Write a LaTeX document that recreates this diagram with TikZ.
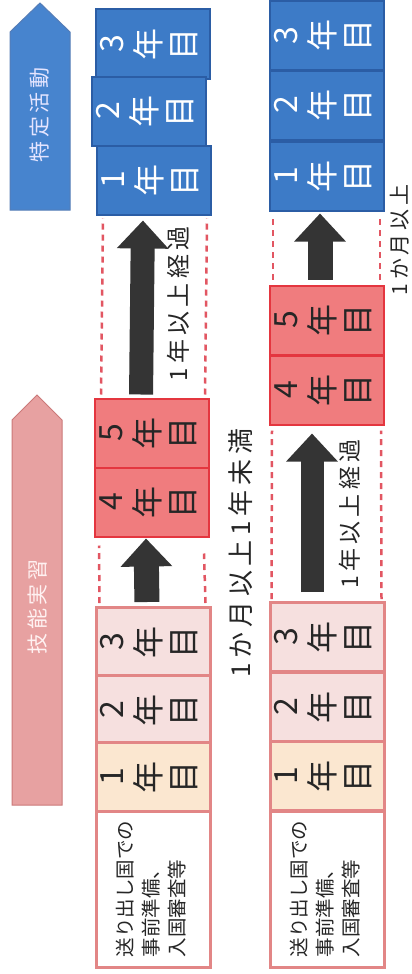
\documentclass[tikz,border=0pt]{standalone}
\usepackage{fontspec}
\setmainfont{Noto Sans CJK JP}
\newfontfamily\jpwide[LetterSpace=18]{Noto Sans CJK JP}
\usepackage{tikz}
\usetikzlibrary{arrows.meta}

\definecolor{boxblue}{HTML}{3D7BC7}
\definecolor{edgeblue}{HTML}{2B5DA5}
\definecolor{boxred}{HTML}{F07C7E}
\definecolor{edgered}{HTML}{E4363F}
\definecolor{boxpink}{HTML}{F6E0DF}
\definecolor{edgepink}{HTML}{E28686}
\definecolor{boxcream}{HTML}{FBE7D0}
\definecolor{arrblue}{HTML}{4784CE}
\definecolor{arrpink}{HTML}{E7A1A1}
\definecolor{passred}{HTML}{E25662}
\definecolor{arrdark}{HTML}{343434}

\newcommand{\nenme}[1]{\rotatebox{90}{\begin{tabular}{@{}c@{}}#1\\年\\目\end{tabular}}}

\begin{document}
\begin{tikzpicture}[x=1pt, y=-1pt,
    yearbox/.style={draw, line width=2pt, minimum width=114pt, minimum height=69pt,
        inner sep=0pt, font=\fontsize{32}{34}\selectfont},
    bluebox/.style={yearbox, fill=boxblue, draw=edgeblue, text=white},
    redbox/.style={yearbox, fill=boxred, draw=edgered, text=black!85},
    pinkbox/.style={yearbox, fill=boxpink, draw=edgepink, line width=3pt, text=black!85},
    creambox/.style={pinkbox, fill=boxcream},
    prebox/.style={draw=edgepink, line width=3pt, fill=white, minimum width=114pt,
        minimum height=156pt, inner sep=0pt, font=\fontsize{19.5}{26}\selectfont, text=black!85},
    passline/.style={draw=passred, line width=2.5pt, dash pattern=on 6pt off 5pt},
    blockarrow/.style={draw=arrdark, line width=#1, -{Triangle[length=28pt, width=50pt]}},
    steptext/.style={rotate=90, text=black!85, font=\jpwide\fontsize{24}{24}\selectfont}]
\useasboundingbox (0,0) rectangle (412,974);
\fill[white] (0,0) rectangle (412,974);

% Category arrows
\draw[fill=arrblue, draw=edgeblue!80, line width=1pt] (10,210) -- (10,32) -- (40,3) -- (70,32) -- (70,210) -- cycle;
\node[rotate=90, text=white!90!blue, font=\jpwide\fontsize{21}{21}\selectfont] (tokutei) at (40,115) {特定活動};

\draw[fill=arrpink, draw=edgepink!90!black, line width=1pt] (12,805) -- (12,420) -- (37,395) -- (62,420) -- (62,805) -- cycle;
\node[rotate=90, text=white!95!red, font=\jpwide\fontsize{21}{21}\selectfont] (ginou) at (38,607) {技能実習};

% First course
\node[bluebox] (ay3) at (153,44) {\nenme{3}};
\node[bluebox] (ay2) at (149,111) {\nenme{2}};
\node[bluebox] (ay1) at (154,180) {\nenme{1}};
\node[redbox] (ag5) at (152,433) {\nenme{5}};
\node[redbox] (ag4) at (152,502) {\nenme{4}};
\node[pinkbox] (ag3) at (153,642) {\nenme{3}};
\node[pinkbox] (ag2) at (153,710) {\nenme{2}};
\node[creambox] (ag1) at (153,777) {\nenme{1}};
\node[prebox] (apre) at (153,889) {\rotatebox{90}{\begin{tabular}{@{}l@{}}送り出し国での\\事前準備、\\入国審査等\end{tabular}}};

\draw[passline] ([xshift=7pt,yshift=3pt]ag5.north west) -- ([xshift=7pt,yshift=-3pt]ay1.south west);
\draw[passline] ([xshift=-5pt,yshift=3pt]ag5.north east) -- ([xshift=-5pt,yshift=-3pt]ay1.south east);
\draw[passline] ([xshift=5pt,yshift=3pt]ag3.north west) -- ([xshift=5pt,yshift=-8pt]ag4.south west);
\draw[passline] ([xshift=-6pt,yshift=3pt]ag3.north east) -- ([xshift=-6pt,yshift=-16pt]ag4.south east);

\draw[blockarrow=24pt, shorten <=3pt, shorten >=5pt] ([xshift=-11pt]ag5.north) -- ([xshift=-11pt]ay1.south);
\draw[blockarrow=25pt, shorten <=4pt, shorten >=1pt] ([xshift=-6pt]ag3.north) -- ([xshift=-6pt]ag4.south);

\node[steptext] (along) at (178,304) {1年以上経過};
\node[steptext, font=\jpwide\fontsize{26}{26}\selectfont] (ashort) at (241,553) {1か月以上1年未満};

% Second course
\node[bluebox] (by3) at (327,36) {\nenme{3}};
\node[bluebox] (by2) at (327,105) {\nenme{2}};
\node[bluebox] (by1) at (327,176) {\nenme{1}};
\node[redbox] (bg5) at (327,320) {\nenme{5}};
\node[redbox] (bg4) at (327,390) {\nenme{4}};
\node[pinkbox] (bg3) at (327,637) {\nenme{3}};
\node[pinkbox] (bg2) at (327,707) {\nenme{2}};
\node[creambox] (bg1) at (327,776) {\nenme{1}};
\node[prebox] (bpre) at (327,889) {\rotatebox{90}{\begin{tabular}{@{}l@{}}送り出し国での\\事前準備、\\入国審査等\end{tabular}}};

\draw[passline] ([xshift=4pt,yshift=5pt]bg5.north west) -- ([xshift=4pt,yshift=-5pt]by1.south west);
\draw[passline] ([xshift=-5pt,yshift=5pt]bg5.north east) -- ([xshift=-5pt,yshift=-5pt]by1.south east);
\draw[passline] ([xshift=3pt,yshift=2pt]bg3.north west) -- ([xshift=3pt,yshift=-5pt]bg4.south west);
\draw[passline] ([xshift=-4pt,yshift=2pt]bg3.north east) -- ([xshift=-4pt,yshift=-5pt]bg4.south east);

\draw[blockarrow=25pt, shorten <=5pt, shorten >=2pt] ([xshift=-7pt]bg5.north) -- ([xshift=-7pt]by1.south);
\draw[blockarrow=23pt, shorten <=9pt, shorten >=8pt] ([xshift=-15pt]bg3.north) -- ([xshift=-15pt]bg4.south);

\node[steptext, font=\jpwide\fontsize{23}{23}\selectfont] (blong) at (350,514) {1年以上経過};
\node[steptext, font=\jpwide\fontsize{21}{21}\selectfont] (bshort) at (400,240) {1か月以上};
\end{tikzpicture}
\end{document}
